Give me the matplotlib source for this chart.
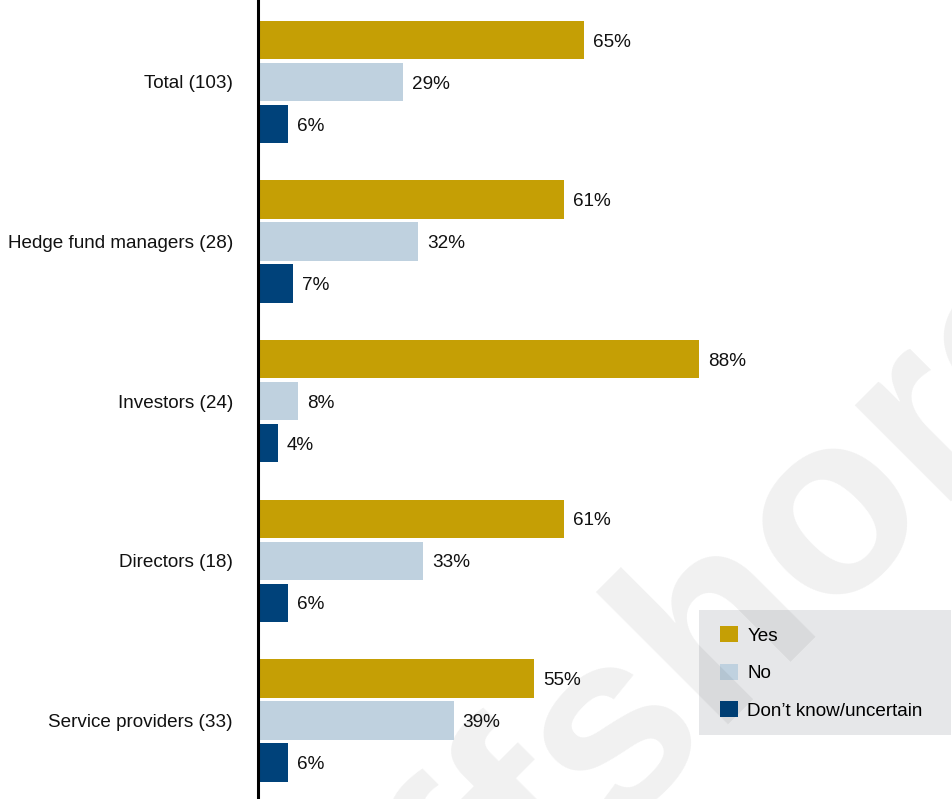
import matplotlib.pyplot as plt
import matplotlib.patches as patches
import numpy as np

plt.rcParams['font.family'] = ['Liberation Sans', 'DejaVu Sans']

# Survey responses by respondent group (share of respondents, %)
groups = ["Total (103)", "Hedge fund managers (28)", "Investors (24)",
          "Directors (18)", "Service providers (33)"]
answers = ["Yes", "No", "Don\u2019t know/uncertain"]
yes = [65, 61, 88, 61, 55]
no = [29, 32, 8, 33, 39]
dont_know = [6, 7, 4, 6, 6]
colors = ["#c59f05", "#bfd1df", "#00427a"]

W, H = 952, 799
FS = 13.6
fig = plt.figure(figsize=(W / 100, H / 100), dpi=100)
ax = fig.add_axes([258 / W, 0, (W - 258) / W, 1])

px_per_pct = 5.015
ax.set_xlim(0, (W - 258) / px_per_pct)
period = 159.6
top = 82 / period
ax.set_ylim(H / period - top, -top)

y = np.arange(len(groups))
step = 42 / period
bar_h = 38.5 / period
for k, (vals, col) in enumerate(zip([yes, no, dont_know], colors)):
    pos = y + (k - 1) * step
    bars = ax.barh(pos, vals, height=bar_h, color=col, zorder=2, label=answers[k])
    for b, v in zip(bars, vals):
        ax.annotate(f"{v}%", (v, b.get_y() + b.get_height() / 2),
                    xytext=(6.5, -1.5), textcoords='offset points',
                    va='center', ha='left', fontsize=FS, color='#111111')

ax.set_yticks(y)
ax.set_yticklabels(groups, fontsize=FS, color='#111111')
ax.tick_params(axis='y', length=0, pad=18)
ax.set_xticks([])
for s in ['top', 'right', 'bottom']:
    ax.spines[s].set_visible(False)
ax.spines['left'].set_linewidth(2.2)
ax.spines['left'].set_color('black')
ax.spines['left'].set_zorder(3)

# legend box
box = patches.Rectangle((699 / W, 1 - 735 / H), 252 / W, 125 / H,
                        transform=fig.transFigure, facecolor='#e6e7e9',
                        edgecolor='none', zorder=1)
ax.add_patch(box)
box.set_clip_on(False)
leg = ax.legend(loc='upper left', bbox_to_anchor=(720 / W, 1 - 626 / H),
                bbox_transform=fig.transFigure, frameon=False, fontsize=FS,
                handlelength=0.95, handleheight=0.95, handletextpad=0.5,
                labelspacing=1.0, borderpad=0, borderaxespad=0)
leg.set_zorder(1.2)

# faint watermark behind the bars
ax.text(0.732, 0.185, "offshore", transform=fig.transFigure, rotation=45,
        fontsize=186, fontweight='bold', color='black', alpha=0.06,
        ha='center', va='center', zorder=1.5, family='Liberation Sans')

fig.savefig("out.png", dpi=100)
